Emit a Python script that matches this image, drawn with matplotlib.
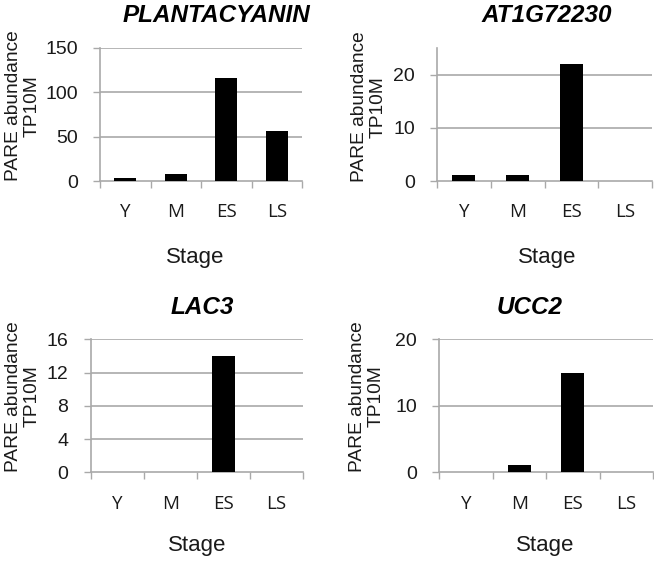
import matplotlib
matplotlib.use("Agg")
import matplotlib.pyplot as plt
from matplotlib.ticker import FixedLocator, NullFormatter

stages = ["Y", "M", "ES", "LS"]
titles = ["PLANTACYANIN", "AT1G72230", "LAC3", "UCC2"]
plantacyanin = [3, 8, 116, 56]
at1g72230 = [1.2, 1.2, 22, 0]
lac3 = [0, 0, 14, 0]
ucc2 = [0, 1.1, 15, 0]
series = [plantacyanin, at1g72230, lac3, ucc2]
ylims = [150, 25, 16, 20]
yticks = [[0, 50, 100, 150], [0, 10, 20], [0, 4, 8, 12, 16], [0, 10, 20]]

W, H = 654, 562
fig = plt.figure(figsize=(W / 100, H / 100), dpi=100)

# axes boxes in pixels: left, right, top, bottom
boxes = [(100, 302, 47.7, 181), (437, 652, 48, 181),
         (90.7, 303, 339.3, 472.3), (439.3, 653, 339.3, 472.3)]
title_pos = [(216, 15), (547, 15), (202, 308), (530, 308)]
ylab_pos = [(22.5, 106), (368.5, 107), (23, 396.5), (366.7, 396.5)]
xlab_pos = [(195, 257), (547.5, 257), (197, 545), (545, 545)]

grid_c = "#a9a9a9"
text_c = "#1a1a1a"
sans = ["Liberation Sans", "DejaVu Sans"]
cat_font = ["Open Sans", "DejaVu Sans"]

for i in range(4):
    l, r, t, b = boxes[i]
    ax = fig.add_axes([l / W, 1 - b / H, (r - l) / W, (b - t) / H])
    x = range(len(stages))
    ax.bar(x, series[i], width=0.43, color="black", zorder=3)
    ax.set_xlim(-0.5, 3.5)
    ax.set_ylim(0, ylims[i])
    ax.set_yticks(yticks[i])
    ax.set_yticklabels([str(v) for v in yticks[i]], family=sans, fontsize=14, color=text_c)
    ax.set_xticks(list(x))
    ax.set_xticklabels(stages, family=cat_font, fontsize=13.5, color=text_c)
    ax.xaxis.set_minor_locator(FixedLocator([-0.5, 0.5, 1.5, 2.5, 3.5]))
    ax.xaxis.set_minor_formatter(NullFormatter())
    ax.tick_params(axis="x", which="major", length=0, pad=16)
    ax.tick_params(axis="x", which="minor", length=5, color=grid_c, width=1)
    ax.tick_params(axis="y", length=5, color=grid_c, width=1, pad=11)
    for tv in yticks[i]:
        if tv > 0:
            ax.axhline(tv, color=grid_c, lw=1.2, zorder=1)
    for s in ["top", "right"]:
        ax.spines[s].set_visible(False)
    for s in ["left", "bottom"]:
        ax.spines[s].set_color(grid_c)
        ax.spines[s].set_linewidth(1.2)
    tx, ty = title_pos[i]
    fig.text(tx / W, 1 - ty / H, titles[i], ha="center", va="center",
             fontsize=17.5, fontweight="bold", fontstyle="italic", family=sans)
    lx, ly = ylab_pos[i]
    fig.text(lx / W, 1 - ly / H, "PARE abundance\nTP10M", rotation=90,
             ha="center", va="center", multialignment="center",
             fontsize=13.8, family=sans, color=text_c, linespacing=1.15)
    sx, sy = xlab_pos[i]
    fig.text(sx / W, 1 - sy / H, "Stage", ha="center", va="center",
             fontsize=16, family=sans, color=text_c)

fig.savefig("out.png", dpi=100)
